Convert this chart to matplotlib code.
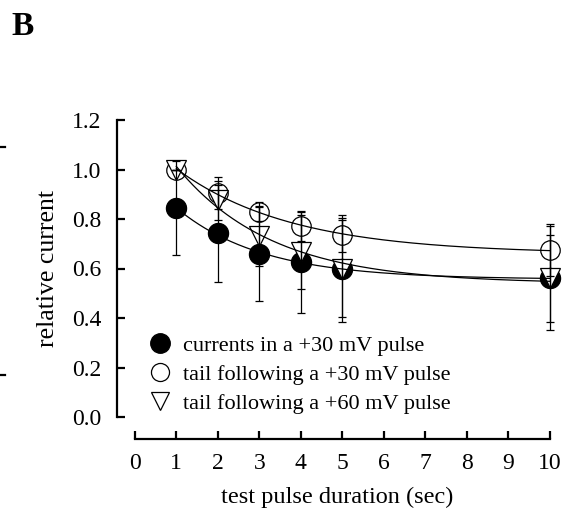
"""
Panel B: relative current vs test pulse duration
"""

import matplotlib
matplotlib.use("Agg")
import matplotlib.pyplot as plt
from matplotlib.lines import Line2D
import numpy as np

plt.rcParams['font.family'] = ['Liberation Serif', 'DejaVu Serif']

############### data ####################################
duration = [1, 2, 3, 4, 5, 10]

curr30 = [0.843, 0.742, 0.657, 0.625, 0.600, 0.560]
curr30_err = [0.19, 0.197, 0.19, 0.205, 0.215, 0.21]

tail30 = [1.000, 0.904, 0.830, 0.772, 0.735, 0.675]
tail30_err = [0.0, 0.065, 0.04, 0.06, 0.07, 0.105]

tail60 = [1.000, 0.875, 0.731, 0.668, 0.600, 0.560]
tail60_err = [0.0, 0.08, 0.12, 0.15, 0.195, 0.175]

labels = ["currents in a +30 mV pulse",
          "tail following a +30 mV pulse",
          "tail following a +60 mV pulse"]

xticks = [0, 1, 2, 3, 4, 5, 6, 7, 8, 9, 10]
yticks = [0.0, 0.2, 0.4, 0.6, 0.8, 1.0, 1.2]


def fit_exp(x, y):
    # y = A + B*exp(-x/tau), grid search on tau, linear lsq for A, B
    x = np.asarray(x, float)
    y = np.asarray(y, float)
    best = None
    for tau in np.linspace(0.3, 10, 500):
        M = np.column_stack([np.ones_like(x), np.exp(-x / tau)])
        coef, *_ = np.linalg.lstsq(M, y, rcond=None)
        res = np.sum((M @ coef - y) ** 2)
        if best is None or res < best[0]:
            best = (res, coef, tau)
    _, (A, B), tau = best
    return lambda t: A + B * np.exp(-t / tau)


fig = plt.figure(figsize=(5.66, 5.17), dpi=100)
ax = fig.add_axes([117 / 566, 1 - 417 / 517, (562 - 117) / 566, (417 - 120) / 517])
ax.set_xlim(-0.43, 10.3)
ax.set_ylim(0, 1.2)

xs = np.linspace(1, 10, 200)
series = [
    (curr30, curr30_err, dict(marker='o', ms=14.5, mfc='black', mec='black'), 2),
    (tail30, tail30_err, dict(marker='o', ms=14, mfc='white', mec='black'), 3),
    (tail60, tail60_err, dict(marker='v', ms=14, mfc='white', mec='black'), 4),
]
for y, e, style, z in series:
    ax.plot(duration, y, ls='none', mew=0.9, zorder=z, clip_on=False, **style)
    ax.errorbar(duration, y, yerr=e, fmt='none', ecolor='black', elinewidth=0.9,
                capsize=3, capthick=0.9, zorder=5, clip_on=False)
    f = fit_exp(duration, y)
    ax.plot(xs, f(xs), color='black', lw=0.9, zorder=5, clip_on=False)

# legend (markers only)
handles = [Line2D([], [], ls='none', marker='o', ms=14, mfc='black', mec='black'),
           Line2D([], [], ls='none', marker='o', ms=13, mfc='white', mec='black', mew=0.9),
           Line2D([], [], ls='none', marker='v', ms=13.5, mfc='white', mec='black', mew=0.9)]
ax.legend(handles, labels, loc='lower left', bbox_to_anchor=(0.052, -0.02),
          frameon=False, fontsize=16, handletextpad=0.54, labelspacing=0.38,
          handlelength=1.0, borderaxespad=0.0, borderpad=0.4)

# axes styling
for s in ['top', 'right']:
    ax.spines[s].set_visible(False)
ax.spines['left'].set_linewidth(1.6)
ax.spines['bottom'].set_linewidth(1.6)
ax.spines['bottom'].set_position(('outward', 16))
ax.spines['bottom'].set_bounds(0, 10)

ax.set_xticks(xticks)
ax.set_yticks(yticks)
ax.set_yticklabels([f"{v:.1f}" for v in yticks])
ax.tick_params(axis='both', direction='in', length=6, width=1.6, labelsize=17)
ax.tick_params(axis='y', pad=11)
ax.tick_params(axis='x', pad=10)

ax.set_xlabel("test pulse duration (sec)", fontsize=17.5)
ax.set_ylabel("relative current", fontsize=18.5)
ax.xaxis.set_label_coords(0.494, -0.235)
ax.yaxis.set_label_coords(-0.155, 0.5)
ax.yaxis.label.set_va('center')
ax.xaxis.label.set_va('top')

# panel letter and leftover ticks from neighbouring panel
fig.text(11 / 566, 1 - 35 / 517, "B", fontsize=24, fontweight='bold')
for ypx in [147, 375]:
    fig.add_artist(Line2D([0, 5 / 566], [1 - ypx / 517] * 2, color='black', lw=1.6))

fig.savefig("out.png", dpi=100)
